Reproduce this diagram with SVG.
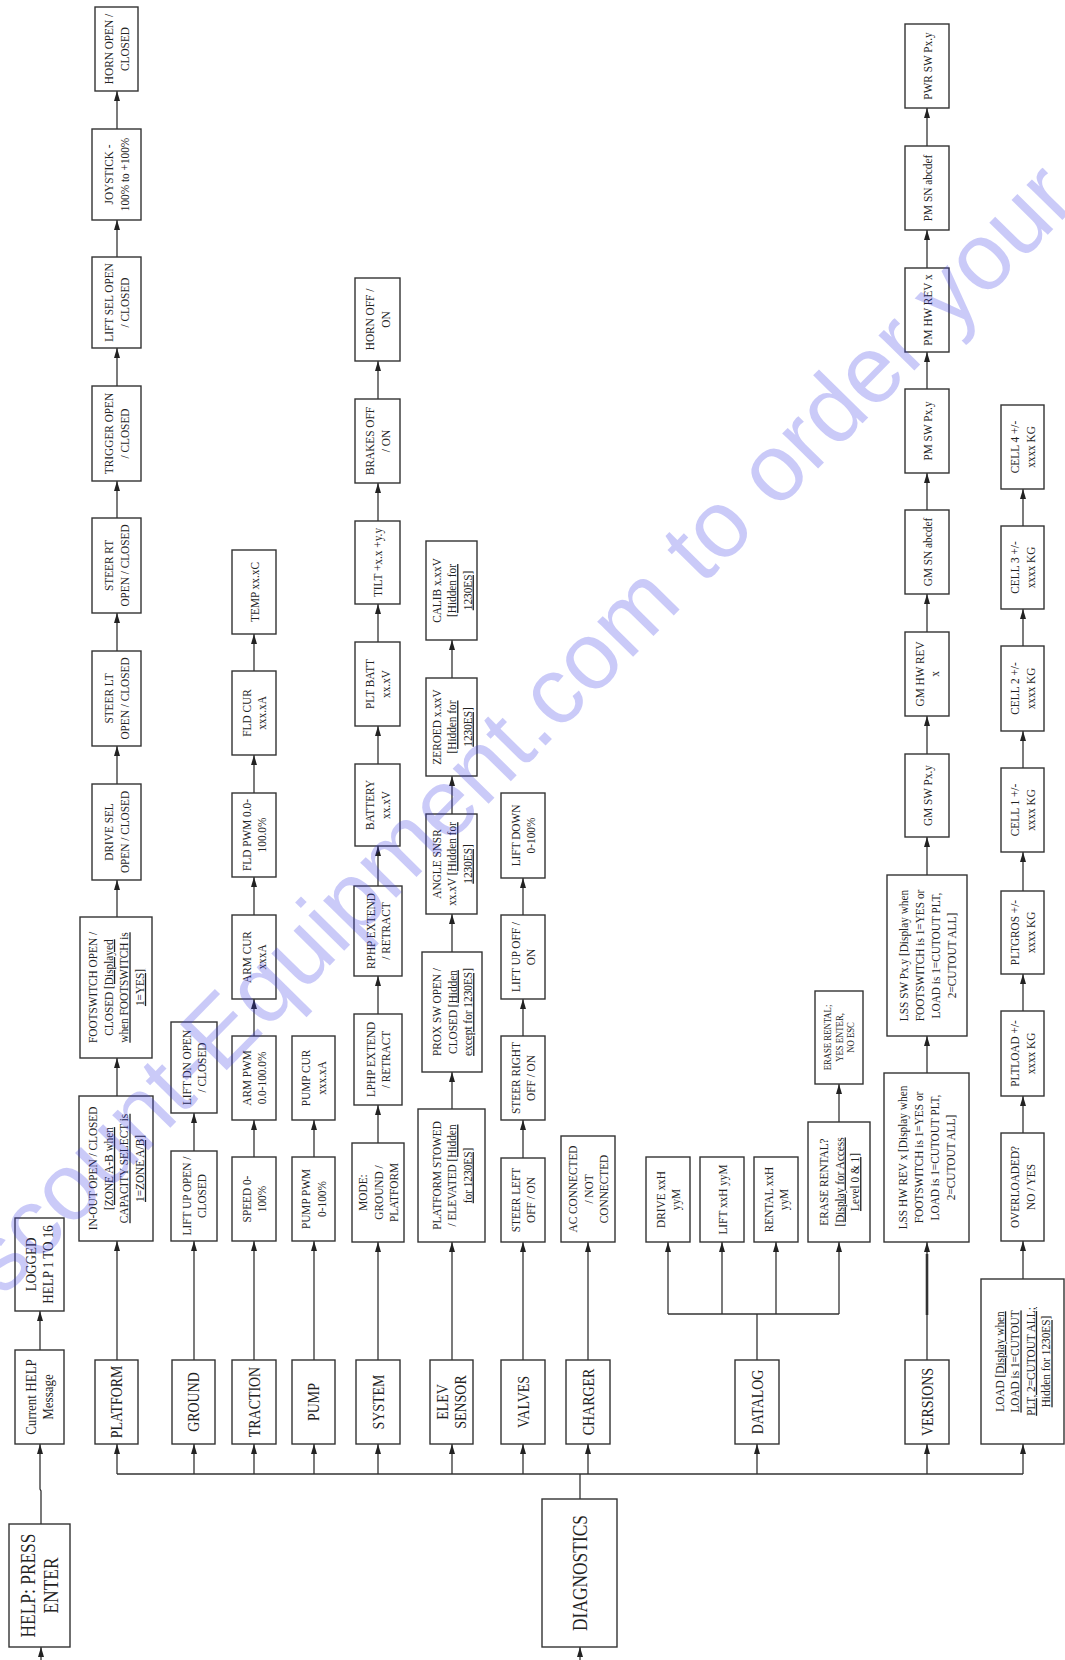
<svg xmlns="http://www.w3.org/2000/svg" width="1065" height="1660" viewBox="0 0 1065 1660">
<defs>
<marker id="ah" viewBox="0 0 10 6" refX="10" refY="3" markerWidth="10" markerHeight="6" markerUnits="userSpaceOnUse" orient="auto"><path d="M0,0 L10,3 L0,6 z" fill="#222"/></marker>
<style>
rect{fill:#fff;stroke:#333;stroke-width:1.4}
text{font-family:"Liberation Serif","Times New Roman",serif;fill:#222;text-anchor:middle}
.s{font-size:13px}
.m{font-size:16px}
.b{font-size:20px}
.h{font-size:15px}
.x{font-size:10px}
.u{text-decoration:underline}
#connectors path{fill:none;stroke:#333;stroke-width:1.3}
#connectors .a{marker-end:url(#ah)}
#connectors .k{stroke-width:2.6}
.wm{font-family:"Liberation Sans",Arial,sans-serif;font-size:95px;fill:#3c3ce6;fill-opacity:.27;text-anchor:start}
</style>
</defs>
<rect x="0" y="0" width="1065" height="1660" style="fill:#fff;stroke:none"/>

<g id="connectors">
<path class="a" d="M41,1660 V1647"/>
<path class="a" d="M580,1660 V1647"/>
<path class="a" d="M41,1524 V1491 L40,1489 V1444"/>
<path class="a" d="M40,1350 V1311"/>
<path d="M580,1499 V1474"/>
<path d="M117,1474 H1023"/>
<path class="a" d="M117,1474 V1444"/>
<path class="a" d="M194,1474 V1444"/>
<path class="a" d="M254,1474 V1444"/>
<path class="a" d="M314,1474 V1444"/>
<path class="a" d="M378,1474 V1444"/>
<path class="a" d="M452,1474 V1444"/>
<path class="a" d="M523,1474 V1444"/>
<path class="a" d="M588,1474 V1444"/>
<path class="a" d="M757,1474 V1444"/>
<path class="a" d="M927,1474 V1444"/>
<path class="a" d="M1023,1474 V1444"/>
<path class="a" d="M117,1360 V1241"/>
<path class="a" d="M117,1096 V1058"/>
<path class="a" d="M117,917 V880"/>
<path class="a" d="M117,784 V746"/>
<path class="a" d="M117,651 V613"/>
<path class="a" d="M117,518 V481"/>
<path class="a" d="M117,386 V348"/>
<path class="a" d="M117,257 V220"/>
<path class="a" d="M117,129 V91"/>
<path class="a" d="M194,1360 V1241"/>
<path class="a" d="M194,1151 V1113"/>
<path class="a" d="M254,1360 V1241"/>
<path class="a" d="M254,1157 V1120"/>
<path class="a" d="M254,1036 V999"/>
<path class="a" d="M254,915 V877"/>
<path class="a" d="M254,793 V755"/>
<path class="a" d="M254,671 V634"/>
<path class="a" d="M314,1360 V1241"/>
<path class="a" d="M314,1157 V1120"/>
<path class="a" d="M378,1360 V1242"/>
<path class="a" d="M378,1143 V1105"/>
<path class="a" d="M378,1014 V976"/>
<path class="a" d="M378,886 V846"/>
<path class="a" d="M378,764 V726"/>
<path class="a" d="M378,642 V604"/>
<path class="a" d="M378,521 V483"/>
<path class="a" d="M378,399 V361"/>
<path class="a" d="M452,1360 V1242"/>
<path class="a" d="M452,1109 V1072"/>
<path class="a" d="M452,952 V914"/>
<path class="a" d="M452,814 V776"/>
<path class="a" d="M452,678 V640"/>
<path class="a" d="M523,1360 V1242"/>
<path class="a" d="M523,1158 V1120"/>
<path class="a" d="M523,1036 V999"/>
<path class="a" d="M523,915 V878"/>
<path class="a" d="M588,1360 V1242"/>
<path d="M757,1360 V1314 M668,1314 H839"/>
<path class="a" d="M668,1314 V1242"/>
<path class="a" d="M722,1314 V1242"/>
<path class="a" d="M776,1314 V1242"/>
<path class="a" d="M839,1314 V1242"/>
<path class="a" d="M839,1122 V1084"/>
<path class="a" d="M927,1360 V1242"/>
<path class="k" d="M927,1315 V1254"/>
<path class="a" d="M927,1073 V1036"/>
<path class="a" d="M927,875 V837"/>
<path class="a" d="M927,754 V716"/>
<path class="a" d="M927,632 V594"/>
<path class="a" d="M927,510 V473"/>
<path class="a" d="M927,389 V352"/>
<path class="a" d="M927,268 V230"/>
<path class="a" d="M927,146 V108"/>
<path class="a" d="M1023,1279 V1241"/>
<path class="a" d="M1023,1133 V1096"/>
<path class="a" d="M1023,1011 V974"/>
<path class="a" d="M1023,891 V852"/>
<path class="a" d="M1023,768 V731"/>
<path class="a" d="M1023,646 V609"/>
<path class="a" d="M1023,526 V489"/>
</g>

<g id="help"><rect x="9" y="1524" width="61" height="123"/><text class="b" transform="translate(39.5 1585.5) rotate(-90) scale(.87 1)"><tspan x="0" y="-4.5">HELP: PRESS</tspan><tspan x="0" y="18.5">ENTER</tspan></text></g>
<g id="current-help"><rect x="15" y="1350" width="49" height="94"/><text class="h" transform="translate(39.5 1397) rotate(-90) scale(.87 1)"><tspan x="0" y="-3.25">Current HELP</tspan><tspan x="0" y="13.75">Message</tspan></text></g>
<g id="logged-help"><rect x="15" y="1218" width="49" height="93"/><text class="h" transform="translate(39.5 1264.5) rotate(-90) scale(.87 1)"><tspan x="0" y="-3.25">LOGGED</tspan><tspan x="0" y="13.75">HELP 1 TO 16</tspan></text></g>
<g id="diagnostics"><rect x="542" y="1499" width="75" height="148"/><text class="b" transform="translate(579.5 1573) rotate(-90) scale(.87 1)"><tspan x="0" y="7">DIAGNOSTICS</tspan></text></g>

<g id="platform"><rect x="95" y="1360" width="43" height="84"/><text class="m" transform="translate(116.5 1402) rotate(-90) scale(.87 1)"><tspan x="0" y="5.6">PLATFORM</tspan></text></g>
<g id="ground"><rect x="172" y="1360" width="43" height="84"/><text class="m" transform="translate(193.5 1402) rotate(-90) scale(.87 1)"><tspan x="0" y="5.6">GROUND</tspan></text></g>
<g id="traction"><rect x="232" y="1360" width="44" height="84"/><text class="m" transform="translate(254 1402) rotate(-90) scale(.87 1)"><tspan x="0" y="5.6">TRACTION</tspan></text></g>
<g id="pump"><rect x="292" y="1360" width="43" height="84"/><text class="m" transform="translate(313.5 1402) rotate(-90) scale(.87 1)"><tspan x="0" y="5.6">PUMP</tspan></text></g>
<g id="system"><rect x="356" y="1360" width="44" height="84"/><text class="m" transform="translate(378 1402) rotate(-90) scale(.87 1)"><tspan x="0" y="5.6">SYSTEM</tspan></text></g>
<g id="elev-sensor"><rect x="430" y="1360" width="43" height="84"/><text class="m" transform="translate(451.5 1402) rotate(-90) scale(.87 1)"><tspan x="0" y="-3.4">ELEV</tspan><tspan x="0" y="14.6">SENSOR</tspan></text></g>
<g id="valves"><rect x="501" y="1360" width="44" height="84"/><text class="m" transform="translate(523 1402) rotate(-90) scale(.87 1)"><tspan x="0" y="5.6">VALVES</tspan></text></g>
<g id="charger"><rect x="566" y="1360" width="44" height="84"/><text class="m" transform="translate(588 1402) rotate(-90) scale(.87 1)"><tspan x="0" y="5.6">CHARGER</tspan></text></g>
<g id="datalog"><rect x="735" y="1360" width="44" height="84"/><text class="m" transform="translate(757 1402) rotate(-90) scale(.87 1)"><tspan x="0" y="5.6">DATALOG</tspan></text></g>
<g id="versions"><rect x="905" y="1360" width="44" height="84"/><text class="m" transform="translate(927 1402) rotate(-90) scale(.87 1)"><tspan x="0" y="5.6">VERSIONS</tspan></text></g>
<g id="load"><rect x="981" y="1279" width="83" height="165"/><text class="s" transform="translate(1022.5 1361.5) rotate(-90) scale(.87 1)"><tspan x="0" y="-18.7">LOAD <tspan class="u">[Display when</tspan></tspan><tspan x="0" y="-3.2" class="u">LOAD is 1=CUTOUT</tspan><tspan x="0" y="12.3" class="u">PLT, 2=CUTOUT ALL;</tspan><tspan x="0" y="27.8" class="u">Hidden for 1230ES]</tspan></text></g>

<g id="in-out"><rect x="79" y="1096" width="74" height="145"/><text class="s" transform="translate(116 1168.5) rotate(-90) scale(.87 1)"><tspan x="0" y="-18.7">IN-OUT OPEN / CLOSED</tspan><tspan x="0" y="-3.2" class="u">[ZONE A-B when</tspan><tspan x="0" y="12.3" class="u">CAPACITY SELECT is</tspan><tspan x="0" y="27.8" class="u">1=ZONE A/B]</tspan></text></g>
<g id="footswitch"><rect x="80" y="917" width="72" height="141"/><text class="s" transform="translate(116 987.5) rotate(-90) scale(.87 1)"><tspan x="0" y="-18.7">FOOTSWITCH OPEN /</tspan><tspan x="0" y="-3.2">CLOSED <tspan class="u">[Displayed</tspan></tspan><tspan x="0" y="12.3" class="u">when FOOTSWITCH is</tspan><tspan x="0" y="27.8" class="u">1=YES]</tspan></text></g>
<g id="drive-sel"><rect x="92" y="784" width="49" height="96"/><text class="s" transform="translate(116.5 832) rotate(-90) scale(.87 1)"><tspan x="0" y="-3.2">DRIVE SEL</tspan><tspan x="0" y="12.3">OPEN / CLOSED</tspan></text></g>
<g id="steer-lt"><rect x="92" y="651" width="49" height="95"/><text class="s" transform="translate(116.5 698.5) rotate(-90) scale(.87 1)"><tspan x="0" y="-3.2">STEER LT</tspan><tspan x="0" y="12.3">OPEN / CLOSED</tspan></text></g>
<g id="steer-rt"><rect x="92" y="518" width="49" height="95"/><text class="s" transform="translate(116.5 565.5) rotate(-90) scale(.87 1)"><tspan x="0" y="-3.2">STEER RT</tspan><tspan x="0" y="12.3">OPEN / CLOSED</tspan></text></g>
<g id="trigger"><rect x="92" y="386" width="49" height="95"/><text class="s" transform="translate(116.5 433.5) rotate(-90) scale(.87 1)"><tspan x="0" y="-3.2">TRIGGER OPEN</tspan><tspan x="0" y="12.3">/ CLOSED</tspan></text></g>
<g id="lift-sel"><rect x="92" y="257" width="49" height="91"/><text class="s" transform="translate(116.5 302.5) rotate(-90) scale(.87 1)"><tspan x="0" y="-3.2">LIFT SEL OPEN</tspan><tspan x="0" y="12.3">/ CLOSED</tspan></text></g>
<g id="joystick"><rect x="92" y="129" width="49" height="91"/><text class="s" transform="translate(116.5 174.5) rotate(-90) scale(.87 1)"><tspan x="0" y="-3.2">JOYSTICK -</tspan><tspan x="0" y="12.3">100% to +100%</tspan></text></g>
<g id="horn-open"><rect x="95" y="7" width="43" height="84"/><text class="s" transform="translate(116.5 49) rotate(-90) scale(.87 1)"><tspan x="0" y="-3.2">HORN OPEN /</tspan><tspan x="0" y="12.3">CLOSED</tspan></text></g>

<g id="lift-up-open"><rect x="171" y="1151" width="46" height="90"/><text class="s" transform="translate(194 1196) rotate(-90) scale(.87 1)"><tspan x="0" y="-3.2">LIFT UP OPEN /</tspan><tspan x="0" y="12.3">CLOSED</tspan></text></g>
<g id="lift-dn-open"><rect x="171" y="1022" width="46" height="91"/><text class="s" transform="translate(194 1067.5) rotate(-90) scale(.87 1)"><tspan x="0" y="-3.2">LIFT DN OPEN</tspan><tspan x="0" y="12.3">/ CLOSED</tspan></text></g>

<g id="speed"><rect x="232" y="1157" width="44" height="84"/><text class="s" transform="translate(254 1199) rotate(-90) scale(.87 1)"><tspan x="0" y="-3.2">SPEED 0-</tspan><tspan x="0" y="12.3">100%</tspan></text></g>
<g id="arm-pwm"><rect x="232" y="1036" width="44" height="84"/><text class="s" transform="translate(254 1078) rotate(-90) scale(.87 1)"><tspan x="0" y="-3.2">ARM PWM</tspan><tspan x="0" y="12.3">0.0-100.0%</tspan></text></g>
<g id="arm-cur"><rect x="232" y="915" width="44" height="84"/><text class="s" transform="translate(254 957) rotate(-90) scale(.87 1)"><tspan x="0" y="-3.2">ARM CUR</tspan><tspan x="0" y="12.3">xxxA</tspan></text></g>
<g id="fld-pwm"><rect x="232" y="793" width="44" height="84"/><text class="s" transform="translate(254 835) rotate(-90) scale(.87 1)"><tspan x="0" y="-3.2">FLD PWM 0.0-</tspan><tspan x="0" y="12.3">100.0%</tspan></text></g>
<g id="fld-cur"><rect x="232" y="671" width="44" height="84"/><text class="s" transform="translate(254 713) rotate(-90) scale(.87 1)"><tspan x="0" y="-3.2">FLD CUR</tspan><tspan x="0" y="12.3">xxx.xA</tspan></text></g>
<g id="temp"><rect x="232" y="550" width="44" height="84"/><text class="s" transform="translate(254 592) rotate(-90) scale(.87 1)"><tspan x="0" y="4.55">TEMP xx.xC</tspan></text></g>

<g id="pump-pwm"><rect x="292" y="1157" width="43" height="84"/><text class="s" transform="translate(313.5 1199) rotate(-90) scale(.87 1)"><tspan x="0" y="-3.2">PUMP PWM</tspan><tspan x="0" y="12.3">0-100%</tspan></text></g>
<g id="pump-cur"><rect x="292" y="1036" width="43" height="84"/><text class="s" transform="translate(313.5 1078) rotate(-90) scale(.87 1)"><tspan x="0" y="-3.2">PUMP CUR</tspan><tspan x="0" y="12.3">xxx.xA</tspan></text></g>

<g id="mode"><rect x="352" y="1143" width="52" height="99"/><text class="s" transform="translate(378 1192.5) rotate(-90) scale(.87 1)"><tspan x="0" y="-10.95">MODE:</tspan><tspan x="0" y="4.55">GROUND /</tspan><tspan x="0" y="20.05">PLATFORM</tspan></text></g>
<g id="lphp"><rect x="354" y="1014" width="48" height="91"/><text class="s" transform="translate(378 1059.5) rotate(-90) scale(.87 1)"><tspan x="0" y="-3.2">LPHP EXTEND</tspan><tspan x="0" y="12.3">/ RETRACT</tspan></text></g>
<g id="rphp"><rect x="354" y="886" width="48" height="90"/><text class="s" transform="translate(378 931) rotate(-90) scale(.87 1)"><tspan x="0" y="-3.2">RPHP EXTEND</tspan><tspan x="0" y="12.3">/ RETRACT</tspan></text></g>
<g id="battery"><rect x="355" y="764" width="45" height="82"/><text class="s" transform="translate(377.5 805) rotate(-90) scale(.87 1)"><tspan x="0" y="-3.2">BATTERY</tspan><tspan x="0" y="12.3">xx.xV</tspan></text></g>
<g id="plt-batt"><rect x="355" y="642" width="45" height="84"/><text class="s" transform="translate(377.5 684) rotate(-90) scale(.87 1)"><tspan x="0" y="-3.2">PLT BATT</tspan><tspan x="0" y="12.3">xx.xV</tspan></text></g>
<g id="tilt"><rect x="355" y="521" width="45" height="83"/><text class="s" transform="translate(377.5 562.5) rotate(-90) scale(.87 1)"><tspan x="0" y="4.55">TILT +x.x +y.y</tspan></text></g>
<g id="brakes"><rect x="355" y="399" width="45" height="84"/><text class="s" transform="translate(377.5 441) rotate(-90) scale(.87 1)"><tspan x="0" y="-3.2">BRAKES OFF</tspan><tspan x="0" y="12.3">/ ON</tspan></text></g>
<g id="horn-off"><rect x="355" y="278" width="45" height="83"/><text class="s" transform="translate(377.5 319.5) rotate(-90) scale(.87 1)"><tspan x="0" y="-3.2">HORN OFF /</tspan><tspan x="0" y="12.3">ON</tspan></text></g>

<g id="platform-stowed"><rect x="418" y="1109" width="67" height="133"/><text class="s" transform="translate(451.5 1175.5) rotate(-90) scale(.87 1)"><tspan x="0" y="-10.95">PLATFORM STOWED</tspan><tspan x="0" y="4.55">/ ELEVATED <tspan class="u">[Hidden</tspan></tspan><tspan x="0" y="20.05" class="u">for 1230ES]</tspan></text></g>
<g id="prox-sw"><rect x="422" y="952" width="60" height="120"/><text class="s" transform="translate(452 1012) rotate(-90) scale(.87 1)"><tspan x="0" y="-10.95">PROX SW OPEN /</tspan><tspan x="0" y="4.55">CLOSED  <tspan class="u">[Hidden</tspan></tspan><tspan x="0" y="20.05" class="u">except for 1230ES]</tspan></text></g>
<g id="angle-snsr"><rect x="426" y="814" width="51" height="100"/><text class="s" transform="translate(451.5 864) rotate(-90) scale(.87 1)"><tspan x="0" y="-10.95">ANGLE SNSR</tspan><tspan x="0" y="4.55">xx.xV <tspan class="u">[Hidden for</tspan></tspan><tspan x="0" y="20.05" class="u">1230ES]</tspan></text></g>
<g id="zeroed"><rect x="426" y="678" width="51" height="98"/><text class="s" transform="translate(451.5 727) rotate(-90) scale(.87 1)"><tspan x="0" y="-10.95">ZEROED x.xxV</tspan><tspan x="0" y="4.55" class="u">[Hidden for</tspan><tspan x="0" y="20.05" class="u">1230ES]</tspan></text></g>
<g id="calib"><rect x="426" y="541" width="51" height="99"/><text class="s" transform="translate(451.5 590.5) rotate(-90) scale(.87 1)"><tspan x="0" y="-10.95">CALIB x.xxV</tspan><tspan x="0" y="4.55" class="u">[Hidden for</tspan><tspan x="0" y="20.05" class="u">1230ES]</tspan></text></g>

<g id="steer-left"><rect x="501" y="1158" width="44" height="84"/><text class="s" transform="translate(523 1200) rotate(-90) scale(.87 1)"><tspan x="0" y="-3.2">STEER LEFT</tspan><tspan x="0" y="12.3">OFF / ON</tspan></text></g>
<g id="steer-right"><rect x="501" y="1036" width="44" height="84"/><text class="s" transform="translate(523 1078) rotate(-90) scale(.87 1)"><tspan x="0" y="-3.2">STEER RIGHT</tspan><tspan x="0" y="12.3">OFF / ON</tspan></text></g>
<g id="lift-up-off"><rect x="501" y="915" width="44" height="84"/><text class="s" transform="translate(523 957) rotate(-90) scale(.87 1)"><tspan x="0" y="-3.2">LIFT UP OFF /</tspan><tspan x="0" y="12.3">ON</tspan></text></g>
<g id="lift-down"><rect x="501" y="793" width="44" height="85"/><text class="s" transform="translate(523 835.5) rotate(-90) scale(.87 1)"><tspan x="0" y="-3.2">LIFT DOWN</tspan><tspan x="0" y="12.3">0-100%</tspan></text></g>

<g id="ac-connected"><rect x="561" y="1136" width="54" height="106"/><text class="s" transform="translate(588 1189) rotate(-90) scale(.87 1)"><tspan x="0" y="-10.95">AC CONNECTED</tspan><tspan x="0" y="4.55">/ NOT</tspan><tspan x="0" y="20.05">CONNECTED</tspan></text></g>

<g id="drive-hours"><rect x="646" y="1157" width="44" height="85"/><text class="s" transform="translate(668 1199.5) rotate(-90) scale(.87 1)"><tspan x="0" y="-3.2">DRIVE  xxH</tspan><tspan x="0" y="12.3">yyM</tspan></text></g>
<g id="lift-hours"><rect x="700" y="1157" width="44" height="85"/><text class="s" transform="translate(722 1199.5) rotate(-90) scale(.87 1)"><tspan x="0" y="4.55">LIFT xxH yyM</tspan></text></g>
<g id="rental-hours"><rect x="754" y="1157" width="44" height="85"/><text class="s" transform="translate(776 1199.5) rotate(-90) scale(.87 1)"><tspan x="0" y="-3.2">RENTAL xxH</tspan><tspan x="0" y="12.3">yyM</tspan></text></g>
<g id="erase-rental"><rect x="808" y="1122" width="62" height="120"/><text class="s" transform="translate(839 1182) rotate(-90) scale(.87 1)"><tspan x="0" y="-10.95">ERASE RENTAL?</tspan><tspan x="0" y="4.55" class="u">[Display for Access</tspan><tspan x="0" y="20.05" class="u">Level 0 &amp; 1]</tspan></text></g>
<g id="erase-confirm"><rect x="815" y="991" width="48" height="93"/><text class="x" transform="translate(839 1037.5) rotate(-90) scale(.87 1)"><tspan x="0" y="-8.5">ERASE RENTAL;</tspan><tspan x="0" y="3.5">YES ENTER,</tspan><tspan x="0" y="15.5">NO ESC</tspan></text></g>

<g id="lss-hw-rev"><rect x="884" y="1073" width="85" height="169"/><text class="s" transform="translate(926.5 1157.5) rotate(-90) scale(.87 1)"><tspan x="0" y="-19.45">LSS HW REV x [Display when</tspan><tspan x="0" y="-3.45">FOOTSWITCH is 1=YES or</tspan><tspan x="0" y="12.55">LOAD is 1=CUTOUT PLT,</tspan><tspan x="0" y="28.55">2=CUTOUT ALL]</tspan></text></g>
<g id="lss-sw"><rect x="887" y="875" width="80" height="161"/><text class="s" transform="translate(927 955.5) rotate(-90) scale(.87 1)"><tspan x="0" y="-19.45">LSS SW Px.y [Display when</tspan><tspan x="0" y="-3.45">FOOTSWITCH is 1=YES or</tspan><tspan x="0" y="12.55">LOAD is 1=CUTOUT PLT,</tspan><tspan x="0" y="28.55">2=CUTOUT ALL]</tspan></text></g>
<g id="gm-sw"><rect x="905" y="754" width="44" height="83"/><text class="s" transform="translate(927 795.5) rotate(-90) scale(.87 1)"><tspan x="0" y="4.55">GM SW Px.y</tspan></text></g>
<g id="gm-hw-rev"><rect x="905" y="632" width="44" height="84"/><text class="s" transform="translate(927 674) rotate(-90) scale(.87 1)"><tspan x="0" y="-3.2">GM HW REV</tspan><tspan x="0" y="12.3">x</tspan></text></g>
<g id="gm-sn"><rect x="905" y="510" width="44" height="84"/><text class="s" transform="translate(927 552) rotate(-90) scale(.87 1)"><tspan x="0" y="4.55">GM SN abcdef</tspan></text></g>
<g id="pm-sw"><rect x="905" y="389" width="44" height="84"/><text class="s" transform="translate(927 431) rotate(-90) scale(.87 1)"><tspan x="0" y="4.55">PM SW Px.y</tspan></text></g>
<g id="pm-hw-rev"><rect x="905" y="268" width="44" height="84"/><text class="s" transform="translate(927 310) rotate(-90) scale(.87 1)"><tspan x="0" y="4.55">PM HW REV x</tspan></text></g>
<g id="pm-sn"><rect x="905" y="146" width="44" height="84"/><text class="s" transform="translate(927 188) rotate(-90) scale(.87 1)"><tspan x="0" y="4.55">PM SN abcdef</tspan></text></g>
<g id="pwr-sw"><rect x="905" y="24" width="44" height="84"/><text class="s" transform="translate(927 66) rotate(-90) scale(.87 1)"><tspan x="0" y="4.55">PWR SW Px.y</tspan></text></g>

<g id="overloaded"><rect x="1001" y="1133" width="43" height="108"/><text class="s" transform="translate(1022.5 1187) rotate(-90) scale(.87 1)"><tspan x="0" y="-3.2">OVERLOADED?</tspan><tspan x="0" y="12.3">NO / YES</tspan></text></g>
<g id="pltload"><rect x="1001" y="1011" width="43" height="85"/><text class="s" transform="translate(1022.5 1053.5) rotate(-90) scale(.87 1)"><tspan x="0" y="-3.2">PLTLOAD +/-</tspan><tspan x="0" y="12.3">xxxx KG</tspan></text></g>
<g id="pltgros"><rect x="1001" y="891" width="43" height="83"/><text class="s" transform="translate(1022.5 932.5) rotate(-90) scale(.87 1)"><tspan x="0" y="-3.2">PLTGROS +/-</tspan><tspan x="0" y="12.3">xxxx KG</tspan></text></g>
<g id="cell1"><rect x="1001" y="768" width="43" height="84"/><text class="s" transform="translate(1022.5 810) rotate(-90) scale(.87 1)"><tspan x="0" y="-3.2">CELL 1 +/-</tspan><tspan x="0" y="12.3">xxxx KG</tspan></text></g>
<g id="cell2"><rect x="1001" y="646" width="43" height="85"/><text class="s" transform="translate(1022.5 688.5) rotate(-90) scale(.87 1)"><tspan x="0" y="-3.2">CELL 2 +/-</tspan><tspan x="0" y="12.3">xxxx KG</tspan></text></g>
<g id="cell3"><rect x="1001" y="526" width="43" height="83"/><text class="s" transform="translate(1022.5 567.5) rotate(-90) scale(.87 1)"><tspan x="0" y="-3.2">CELL 3 +/-</tspan><tspan x="0" y="12.3">xxxx KG</tspan></text></g>
<g id="cell4"><rect x="1001" y="405" width="43" height="84"/><text class="s" transform="translate(1022.5 447) rotate(-90) scale(.87 1)"><tspan x="0" y="-3.2">CELL 4 +/-</tspan><tspan x="0" y="12.3">xxxx KG</tspan></text></g>

<g id="watermark"><text class="wm" x="-60" y="1362" transform="rotate(-45.5 -60 1362)">Discount-Equipment.com to order your</text></g>
</svg>
